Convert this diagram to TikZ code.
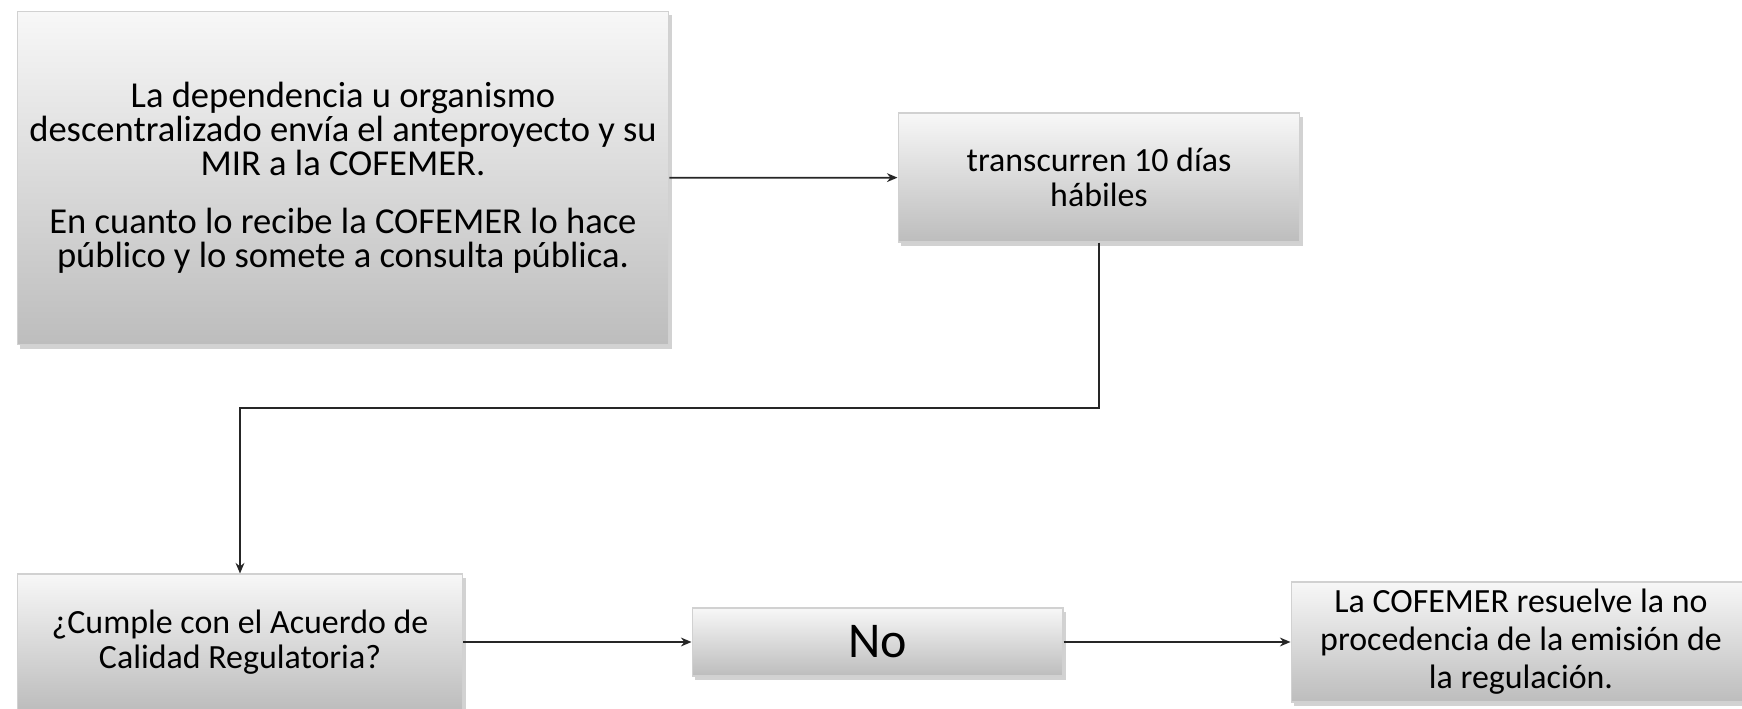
\documentclass[tikz,border=0pt]{standalone}
\usepackage{fontspec}
\setmainfont{Carlito}
\usetikzlibrary{arrows.meta,shadows}
\tikzset{
  caja/.style={draw=black!18, line width=0.6pt, top color=white!97!black, bottom color=black!26,
    drop shadow={shadow xshift=1.5pt, shadow yshift=-2.5pt, opacity=0.35},
    align=center, inner sep=4pt, font=\fontsize{19.3}{19.6}\selectfont},
  flecha/.style={draw=black!85, line width=1pt, -{Stealth[length=6pt,width=5pt]}}
}
\begin{document}
\begin{tikzpicture}[x=0.02cm,y=-0.02cm]
\useasboundingbox[fill=white] (0,0) rectangle (1742,709);

% Draw the boxes
\node[caja, minimum width=13.04cm, minimum height=6.68cm, font=\fontsize{20.8}{19.2}\selectfont] (envio) at (343,178) {La dependencia u organismo\\ descentralizado envía el anteproyecto y su\\ MIR a la COFEMER.\\[14pt] En cuanto lo recibe la COFEMER lo hace\\ público y lo somete a consulta pública.};
\node[caja, minimum width=8.04cm, minimum height=2.58cm] (plazo) at (1099,177.5) {transcurren 10 días\\ hábiles};
\node[caja, minimum width=8.92cm, minimum height=2.72cm] (cumple) at (240,642) {¿Cumple con el Acuerdo de\\ Calidad Regulatoria?};
\node[caja, minimum width=7.42cm, minimum height=1.36cm, font=\fontsize{28.5}{34}\selectfont] (no) at (877.5,642) {No};
\node[caja, minimum width=9.2cm, minimum height=2.4cm, font=\fontsize{19.3}{21.6}\selectfont] (resuelve) at (1521,642) {La COFEMER resuelve la no\\ procedencia de la emisión de\\ la regulación.};

% Draw the connectors
\coordinate (codo) at (240,408);
\draw[flecha] (envio) -- (plazo);
\draw[flecha] (plazo.south) |- (codo) -- (cumple.north);
\draw[flecha] (cumple) -- (no);
\draw[flecha] (no) -- (resuelve);
\end{tikzpicture}
\end{document}
